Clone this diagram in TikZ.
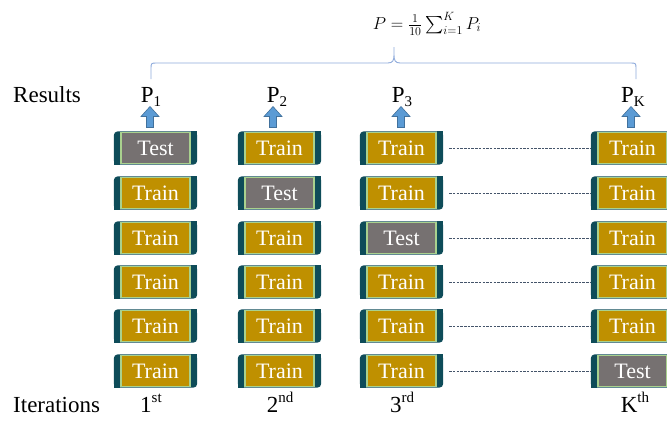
\documentclass[tikz,border=0pt]{standalone}
\usepackage{amsmath}
\usepackage{fontspec}
\setmainfont{Liberation Serif}

% one fold: teal case, coloured face on top
\newcommand\fold[4]{%
  \node[foldbox] (#1) at (#2) {};
  \fill[fold_teal, rounded corners=4pt] (#1.south west) rectangle (#1.north east);
  \fill[fold_teal] (#1.south west) rectangle ++(6pt,6pt);
  \fill[fold_teal] (#1.north east) rectangle ++(-6pt,-6pt);
  \node[#3] (#1-in) at (#1) {#4};
}
% block arrow pointing up, centred on a named coordinate
\newcommand\upblock[2]{%
  \coordinate (#1) at (#2);
  \filldraw[fill=arrow_blue, draw=arrow_edge, line width=0.6pt]
    ([shift={(-3.5pt,-10.5pt)}]#1) -- ++(0pt,11pt) -- ++(-5.5pt,0pt) -- ++(9pt,10pt)
    -- ++(9pt,-10pt) -- ++(-5.5pt,0pt) -- ++(0pt,-11pt) -- cycle;
}
\newcommand\psub[1]{P\raisebox{-0.2em}{\fontsize{15}{15}\selectfont #1}}
\newcommand\ord[2]{#1\raisebox{0.42em}{\fontsize{15}{15}\selectfont #2}}

\begin{document}
\begin{tikzpicture}[x=1pt, y=-1pt,
  foldbox/.style={minimum width=83pt, minimum height=33pt, inner sep=0pt},
  face/.style={minimum width=69pt, minimum height=31pt, inner sep=0pt, draw=edge_green,
    line width=1.1pt, text=white, font=\fontsize{22}{24}\selectfont},
  train/.style={face, fill=train_gold},
  test/.style={face, fill=test_grey},
  label_text/.style={font=\fontsize{23}{26}\selectfont, inner sep=0pt},
  dotline/.style={dash_grey, dash pattern=on 2.5pt off 1.2pt, line width=0.6pt}]

\definecolor{fold_teal}{HTML}{0E4C59}
\definecolor{train_gold}{HTML}{BF9000}
\definecolor{test_grey}{HTML}{767171}
\definecolor{edge_green}{HTML}{A9D18E}
\definecolor{arrow_blue}{HTML}{5B9BD5}
\definecolor{arrow_edge}{HTML}{41719C}
\definecolor{brace_blue}{HTML}{8EAADB}
\definecolor{dash_grey}{HTML}{44546A}

\clip (0,0) rectangle (667,423);

% average over the folds
\node[inner sep=0pt] (avg) at (427,24) {\fontsize{18}{22}\selectfont $P = \frac{1}{10}\sum_{i=1}^{K} P_i$};
\coordinate (bl) at (151,79);
\coordinate (bt) at (394,47);
\coordinate (br) at (636,79);
\draw[brace_blue, line width=0.9pt] (bl) -- (151,69) .. controls (151,63) .. (157,63) -- (388,63)
  .. controls (393,63) and (394,60) .. (394,55) -- (bt) -- (394,55)
  .. controls (394,60) and (395,63) .. (400,63) -- (630,63) .. controls (636,63) .. (636,69) -- (br);

\node[label_text, anchor=base west] (results) at (13,102) {Results};
\node[label_text, anchor=base] (p1) at (151,102) {\psub{1}};
\node[label_text, anchor=base] (p2) at (277,102) {\psub{2}};
\node[label_text, anchor=base] (p3) at (402,102) {\psub{3}};
\node[label_text, anchor=base] (pk) at (633,102) {\psub{K}};

\upblock{a1}{150,117}
\upblock{a2}{273,117}
\upblock{a3}{401,117}
\upblock{ak}{631,117}

% 1st iteration
\fold{c1r1}{155.5,148}{test}{Test}
\fold{c1r2}{155.5,193}{train}{Train}
\fold{c1r3}{155.5,238}{train}{Train}
\fold{c1r4}{155.5,282}{train}{Train}
\fold{c1r5}{155.5,326}{train}{Train}
\fold{c1r6}{155.5,371}{train}{Train}

% 2nd iteration
\fold{c2r1}{279.5,148}{train}{Train}
\fold{c2r2}{279.5,193}{test}{Test}
\fold{c2r3}{279.5,238}{train}{Train}
\fold{c2r4}{279.5,282}{train}{Train}
\fold{c2r5}{279.5,326}{train}{Train}
\fold{c2r6}{279.5,371}{train}{Train}

% 3rd iteration
\fold{c3r1}{401.5,148}{train}{Train}
\fold{c3r2}{401.5,193}{train}{Train}
\fold{c3r3}{401.5,238}{test}{Test}
\fold{c3r4}{401.5,282}{train}{Train}
\fold{c3r5}{401.5,326}{train}{Train}
\fold{c3r6}{401.5,371}{train}{Train}

% K-th iteration
\fold{ckr1}{632.5,148}{train}{Train}
\fold{ckr2}{632.5,193}{train}{Train}
\fold{ckr3}{632.5,238}{train}{Train}
\fold{ckr4}{632.5,282}{train}{Train}
\fold{ckr5}{632.5,326}{train}{Train}
\fold{ckr6}{632.5,371}{test}{Test}

\draw[dotline] ([xshift=6pt]c3r1.east) -- (ckr1.west);
\draw[dotline] ([xshift=6pt]c3r2.east) -- (ckr2.west);
\draw[dotline] ([xshift=6pt]c3r3.east) -- (ckr3.west);
\draw[dotline] ([xshift=6pt]c3r4.east) -- (ckr4.west);
\draw[dotline] ([xshift=6pt]c3r5.east) -- (ckr5.west);
\draw[dotline] ([xshift=6pt]c3r6.east) -- (ckr6.west);

\node[label_text, anchor=base west] (iter) at (13,412) {Iterations};
\node[label_text, anchor=base] (i1) at (151,412) {\ord{1}{st}};
\node[label_text, anchor=base] (i2) at (280,412) {\ord{2}{nd}};
\node[label_text, anchor=base] (i3) at (402,412) {\ord{3}{rd}};
\node[label_text, anchor=base] (ik) at (635,412) {\ord{K}{th}};

\end{tikzpicture}
\end{document}
